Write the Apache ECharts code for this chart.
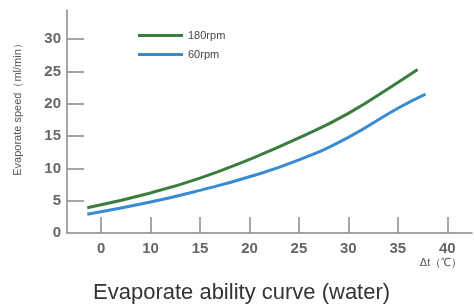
<!DOCTYPE html>
<html>
<head>
<meta charset="utf-8">
<script src="https://cdn.jsdelivr.net/npm/echarts@6/dist/echarts.min.js"></script>
<style>
  html, body { margin: 0; padding: 0; background: #fff; }
  #chart { width: 474px; height: 308px; }
</style>
</head>
<body>
<div id="chart"></div>
<script>
// tick labels (evenly spaced on the picture, so x data is in tick positions)
var xTickLabels = ['0', '10', '15', '20', '25', '30', '35', '40'];
var yTicks = [0, 5, 10, 15, 20, 25, 30];

// curves, x = position on the tick scale, y = ml/min
var rpm180 = [[-0.28, 3.9], [1, 6.2], [2, 8.5], [3, 11.4], [4, 14.7], [5, 18.5], [6, 23.3], [6.4, 25.3]];
var rpm60 = [[-0.28, 2.9], [1, 4.8], [2, 6.6], [3, 8.7], [4, 11.3], [5, 14.8], [6, 19.3], [6.56, 21.5]];

var xTickPos = xTickLabels.map(function (t, i) { return i; });

var myChart = echarts.init(document.getElementById('chart'));
var axisText = {
    fontFamily: 'Liberation Sans',
    fontSize: 15,
    fontWeight: 'bold',
    color: '#666'
};
var option = {
    animation: false,
    title: {
        text: 'Evaporate ability curve (water)',
        left: 88,
        top: 277,
        textStyle: {
            fontFamily: 'Liberation Sans',
            fontSize: 22,
            fontWeight: 'normal',
            color: '#333'
        }
    },
    legend: {
        orient: 'vertical',
        left: 133,
        top: 25,
        icon: 'rect',
        itemWidth: 45,
        itemHeight: 3,
        itemGap: 8,
        data: ['180rpm', '60rpm'],
        textStyle: {
            fontFamily: 'Liberation Sans',
            fontSize: 11,
            color: '#444'
        }
    },
    grid: {
        left: 67,
        right: 2,
        top: 10,
        bottom: 75
    },
    xAxis: {
        type: 'value',
        min: -0.69,
        max: 7.5,
        splitLine: { show: false },
        axisLine: { onZero: false, lineStyle: { color: '#888', width: 1.5 } },
        axisTick: {
            inside: true,
            length: 16,
            customValues: xTickPos,
            lineStyle: { color: '#888', width: 1.5 }
        },
        axisLabel: Object.assign({
            margin: 8,
            customValues: xTickPos,
            formatter: function (v) { return xTickLabels[Math.round(v)]; }
        }, axisText)
    },
    yAxis: {
        type: 'value',
        min: 0,
        max: 34.5,
        splitLine: { show: false },
        axisLine: { show: true, onZero: false, lineStyle: { color: '#888', width: 1.5 } },
        axisTick: {
            show: true,
            inside: true,
            length: 17,
            customValues: yTicks.slice(1),
            lineStyle: { color: '#888', width: 1.5 }
        },
        axisLabel: Object.assign({
            margin: 6,
            customValues: yTicks
        }, axisText)
    },
    graphic: [
        {
            type: 'text',
            x: 18,
            y: 107,
            rotation: Math.PI / 2,
            style: {
                text: 'Evaporate speed（ml/min）',
                fontFamily: 'Liberation Sans',
                fontSize: 11,
                fill: '#555',
                align: 'center',
                verticalAlign: 'middle'
            }
        },
        {
            type: 'text',
            x: 441,
            y: 263,
            style: {
                text: 'Δt（℃）',
                fontFamily: 'Liberation Sans',
                fontSize: 11,
                fill: '#555',
                align: 'center',
                verticalAlign: 'middle'
            }
        }
    ],
    series: [
        {
            name: '180rpm',
            type: 'line',
            smooth: true,
            showSymbol: false,
            data: rpm180,
            itemStyle: { color: '#3b7d3e' },
            lineStyle: { color: '#3b7d3e', width: 3 }
        },
        {
            name: '60rpm',
            type: 'line',
            smooth: true,
            showSymbol: false,
            data: rpm60,
            itemStyle: { color: '#3a8ad4' },
            lineStyle: { color: '#3a8ad4', width: 3 }
        }
    ]
};
myChart.setOption(option);
</script>
</body>
</html>
